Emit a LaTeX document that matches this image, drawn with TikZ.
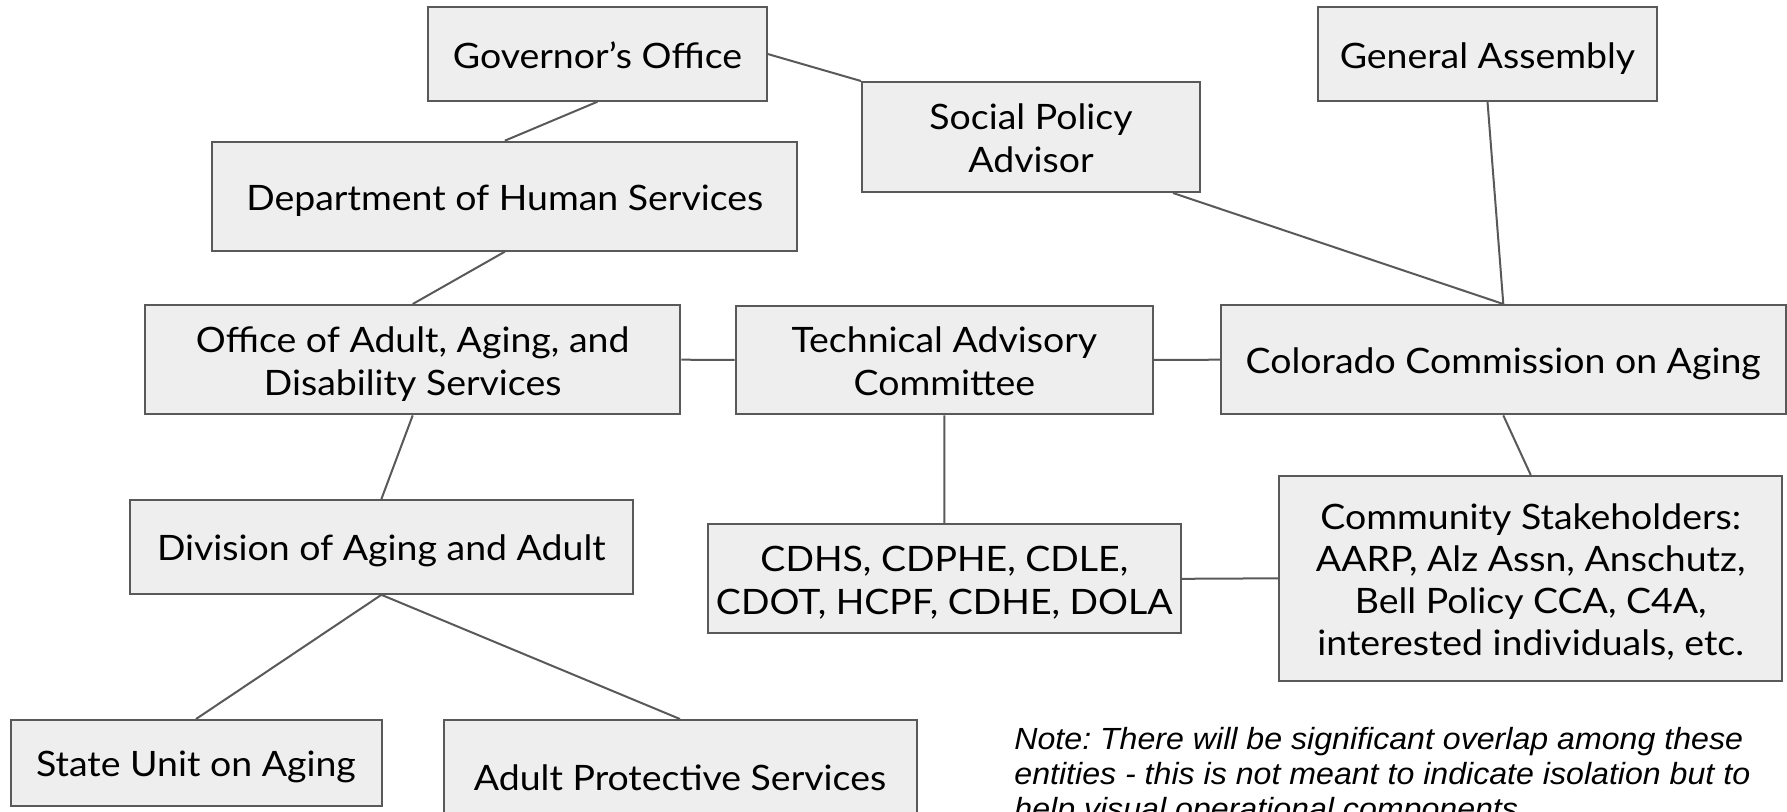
\documentclass[tikz,border=0pt]{standalone}
\usepackage{fontspec}
\setmainfont{Lato}[FakeStretch=1.07]
\newfontfamily\notefont{Liberation Sans}[FakeStretch=1.05]
\definecolor{boxfill}{HTML}{EEEEEE}
\definecolor{edgegray}{HTML}{595959}
\begin{document}
\frenchspacing
\begin{tikzpicture}[x=0.5pt,y=-0.5pt,
  box/.style={draw=edgegray, line width=1pt, fill=boxfill, inner sep=0pt,
    align=center, font=\fontsize{17.5}{21.7}\selectfont, text=black,
    text height=14pt, text depth=0pt},
  twoline/.style={text height=35.7pt},
  fourline/.style={font=\fontsize{17.5}{21}\selectfont, text height=77pt},
  link/.style={draw=edgegray, line width=1pt}]
\useasboundingbox (0,0) rectangle (1787,811);
\clip (0,0) rectangle (1787,811);
\node[box, minimum width=169.2pt, minimum height=46.7pt] (gov) at (597.5,54) {Governor’s Office};
\node[box, minimum width=169.2pt, minimum height=46.7pt] (ga) at (1487.5,54) {General Assembly};
\node[box, twoline, minimum width=169pt, minimum height=55pt] (social) at (1031,137) {Social Policy\\Advisor};
\node[box, minimum width=292.4pt, minimum height=54.5pt] (dhs) at (504.8,196.2) {Department of Human Services};
\node[box, twoline, minimum width=267.7pt, minimum height=54.7pt] (oads) at (412.7,359.7) {Office of Adult, Aging, and\\Disability Services};
\node[box, twoline, minimum width=208.7pt, minimum height=54.4pt] (tac) at (944.4,359.9) {Technical Advisory\\Committee};
\node[box, minimum width=282.4pt, minimum height=54.7pt] (cca) at (1503.3,359.7) {Colorado Commission on Aging};
\node[box, minimum width=251.4pt, minimum height=46.9pt] (div) at (381.4,546.9) {Division of Aging and Adult};
\node[box, twoline, minimum width=236.6pt, minimum height=54.5pt] (cdhs) at (944.3,578.8) {CDHS, CDPHE, CDLE,\\CDOT, HCPF, CDHE, DOLA};
\node[box, fourline, minimum width=251.7pt, minimum height=102.4pt] (comm) at (1530.7,578.3) {Community Stakeholders:\\AARP, Alz Assn, Anschutz,\\Bell Policy CCA, C4A,\\interested individuals, etc.};
\node[box, minimum width=185.5pt, minimum height=42.9pt] (sua) at (196,762.9) {State Unit on Aging};
\node[box, minimum width=236.5pt, minimum height=56pt] (aps) at (680,776) {Adult Protective Services};
\coordinate (socout) at ([xshift=-14pt]social.south east);
\draw[link] (gov.south) -- (dhs.north);
\draw[link] (gov.east) -- (social.north west);
\draw[link] (socout) -- (cca.north);
\draw[link] (ga.south) -- (cca.north);
\draw[link] (dhs.south) -- (oads.north);
\draw[link] (oads.east) -- (tac.west);
\draw[link] (tac.east) -- (cca.west);
\draw[link] (oads.south) -- (div.north);
\draw[link] (div.south) -- (sua.north);
\draw[link] (div.south) -- (aps.north);
\draw[link] (tac.south) -- (cdhs.north);
\draw[link] (cdhs.east) -- (comm.west);
\draw[link] (cca.south) -- (comm.north);
\node[anchor=north west, inner sep=0pt, align=left, text height=45.95pt, text depth=0pt,
  font=\notefont\itshape\fontsize{15.3}{17.5}\selectfont] (note) at (1014,726.7)
  {Note: There will be significant overlap among these\\entities - this is not meant to indicate isolation but to\\help visual operational components.};
\end{tikzpicture}
\end{document}
